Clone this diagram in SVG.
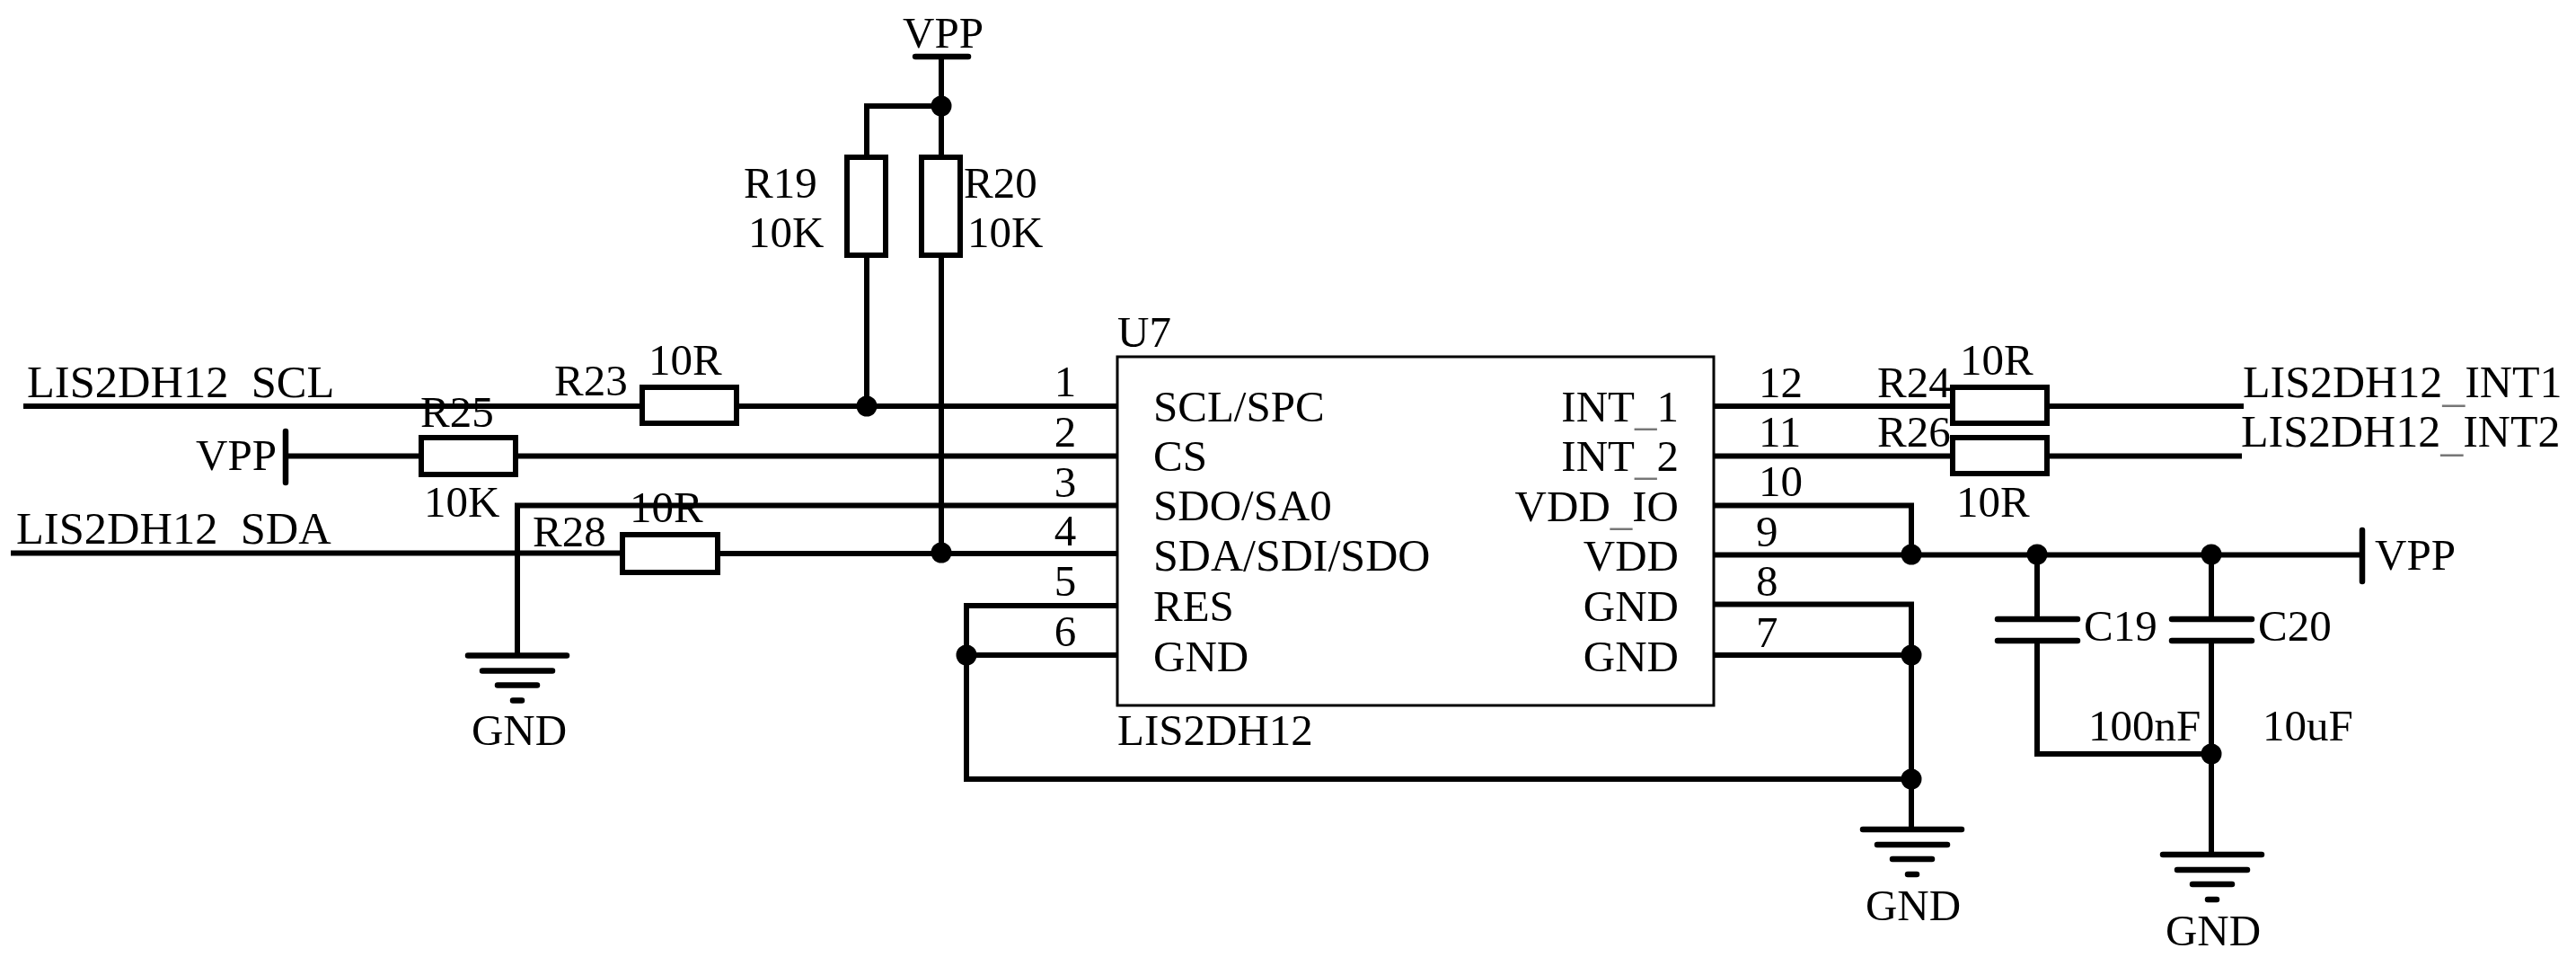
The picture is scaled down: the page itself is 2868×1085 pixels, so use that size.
<svg xmlns="http://www.w3.org/2000/svg" width="2868" height="1085" viewBox="0 0 2868 1085">
<style>
text{font-family:"Liberation Serif","Times New Roman",serif;font-size:49px;fill:#000}
.e{text-anchor:end}
.m{text-anchor:middle}
.n{font-size:50.5px}
.u{fill:#777}
.w{fill:none;stroke:#000;stroke-width:6;stroke-linecap:square;stroke-linejoin:miter}
.b{fill:#fff;stroke:#000;stroke-width:6}
.p{fill:none;stroke:#000;stroke-width:6.5;stroke-linecap:round}
.j{fill:#000}
</style>
<defs>
<g id="gnd-sym"><path class="p" d="M-55 0H55M-39 17H39M-22 33H22M-5 50H5"/></g>
</defs>
<rect width="2868" height="1085" fill="#fff"/>
<g id="connectors">
<path class="w" d="M1048 66V172M965 172V118H1048"/>
<path class="w" d="M965 287V452M1048 287V616"/>
<path class="w" d="M29 452H712M823 452H1244"/>
<path class="w" d="M318 507.500H466M576 507.500H1244"/>
<path class="w" d="M1244 562.500H576V729"/>
<path class="w" d="M15 615.500H690M802 616H1244"/>
<path class="w" d="M1244 674H1076V867H2128M1076 729H1244"/>
<path class="w" d="M1908 452H2171M2282 452H2495"/>
<path class="w" d="M1908 507.500H2171M2282 507.500H2493"/>
<path class="w" d="M1908 562.500H2128V617"/>
<path class="w" d="M1908 617.500H2630"/>
<path class="w" d="M1908 672.500H2128V923M1908 729H2128"/>
<path class="w" d="M2268 617V689M2268 713V839H2462M2462 617V689M2462 713V951"/>
<g class="j">
<circle cx="1048" cy="118" r="11.500"/><circle cx="965" cy="452" r="11.500"/><circle cx="1048" cy="615" r="11.500"/>
<circle cx="1076" cy="729" r="11.500"/><circle cx="2128" cy="617" r="11.500"/><circle cx="2268" cy="617" r="11.500"/><circle cx="2462" cy="617" r="11.500"/>
<circle cx="2128" cy="729" r="11.500"/><circle cx="2128" cy="867" r="11.500"/><circle cx="2462" cy="839" r="11.500"/>
</g>
</g>
<g id="U7">
<rect x="1244" y="397" width="664" height="388" fill="#fff" stroke="#000" stroke-width="3"/>
<text x="1244" y="386">U7</text>
<text x="1244" y="829">LIS2DH12</text>
<text x="1284" y="469">SCL/SPC</text>
<text x="1284" y="524">CS</text>
<text x="1284" y="579">SDO/SA0</text>
<text x="1284" y="635" style="font-size:50px">SDA/SDI/SDO</text>
<text x="1284" y="691">RES</text>
<text x="1284" y="747">GND</text>
<text class="e" x="1869" y="469">INT<tspan class="u" dy="4">_</tspan><tspan dy="-4">1</tspan></text>
<text class="e" x="1869" y="524">INT<tspan class="u" dy="4">_</tspan><tspan dy="-4">2</tspan></text>
<text class="e" x="1869" y="580">VDD<tspan class="u" dy="4">_</tspan><tspan dy="-4">IO</tspan></text>
<text class="e" x="1869" y="635">VDD</text>
<text class="e" x="1869" y="691">GND</text>
<text class="e" x="1869" y="747">GND</text>
<text class="m" x="1186" y="441">1</text>
<text class="m" x="1186" y="497">2</text>
<text class="m" x="1186" y="553">3</text>
<text class="m" x="1186" y="607">4</text>
<text class="m" x="1186" y="663">5</text>
<text class="m" x="1186" y="719">6</text>
<text x="1958" y="442">12</text>
<text x="1958" y="497">11</text>
<text x="1958" y="552">10</text>
<text x="1955" y="608">9</text>
<text x="1955" y="663">8</text>
<text x="1955" y="720">7</text>
</g>
<g id="R19"><rect class="b" x="943" y="175" width="43" height="109"/><text x="828" y="220">R19</text><text x="833" y="275">10K</text></g>
<g id="R20"><rect class="b" x="1026" y="175" width="43" height="109"/><text x="1073" y="220">R20</text><text x="1077" y="275">10K</text></g>
<g id="R23"><rect class="b" x="715" y="431" width="105" height="40"/><text x="617" y="440">R23</text><text x="722" y="417">10R</text></g>
<g id="R25"><rect class="b" x="469" y="487" width="105" height="41"/><text x="468" y="475">R25</text><text x="472" y="575">10K</text></g>
<g id="R28"><rect class="b" x="693" y="595" width="106" height="42"/><text x="593" y="608">R28</text><text x="701" y="581">10R</text></g>
<g id="R24"><rect class="b" x="2174" y="431" width="105" height="40"/><text x="2090" y="442">R24</text><text x="2182" y="417">10R</text></g>
<g id="R26"><rect class="b" x="2174" y="487" width="105" height="40"/><text x="2090" y="497">R26</text><text x="2178" y="575">10R</text></g>
<g id="C19"><path class="p" d="M2224 689H2313M2224 713H2313"/><text x="2320" y="713">C19</text><text x="2325" y="824">100nF</text></g>
<g id="C20"><path class="p" d="M2418 689H2507M2418 713H2507"/><text x="2514" y="713">C20</text><text x="2519" y="824">10uF</text></g>
<g id="VPP-top"><path class="p" d="M1019 63H1078"/><text x="1005" y="53">VPP</text></g>
<g id="VPP-left"><path class="p" d="M318 480V537"/><text x="218" y="523">VPP</text></g>
<g id="VPP-right"><path class="p" d="M2630 590V647"/><text x="2644" y="634">VPP</text></g>
<g id="GND-left"><use href="#gnd-sym" x="576" y="729.500"/><text class="m" x="578" y="829">GND</text></g>
<g id="GND-mid"><use href="#gnd-sym" x="2129" y="923"/><text class="m" x="2130" y="1024">GND</text></g>
<g id="GND-right"><use href="#gnd-sym" x="2463" y="951"/><text class="m" x="2464" y="1052">GND</text></g>
<g id="net-labels">
<text class="n" x="30" y="442">LIS2DH12<tspan dy="5">_</tspan><tspan dy="-5">SCL</tspan></text>
<text class="n" x="18" y="605">LIS2DH12<tspan dy="5">_</tspan><tspan dy="-5">SDA</tspan></text>
<text x="2497" y="442" style="font-size:50px">LIS2DH12<tspan class="u" dy="4">_</tspan><tspan dy="-4">INT1</tspan></text>
<text x="2495" y="497" style="font-size:50px">LIS2DH12<tspan class="u" dy="4">_</tspan><tspan dy="-4">INT2</tspan></text>
</g>
</svg>
